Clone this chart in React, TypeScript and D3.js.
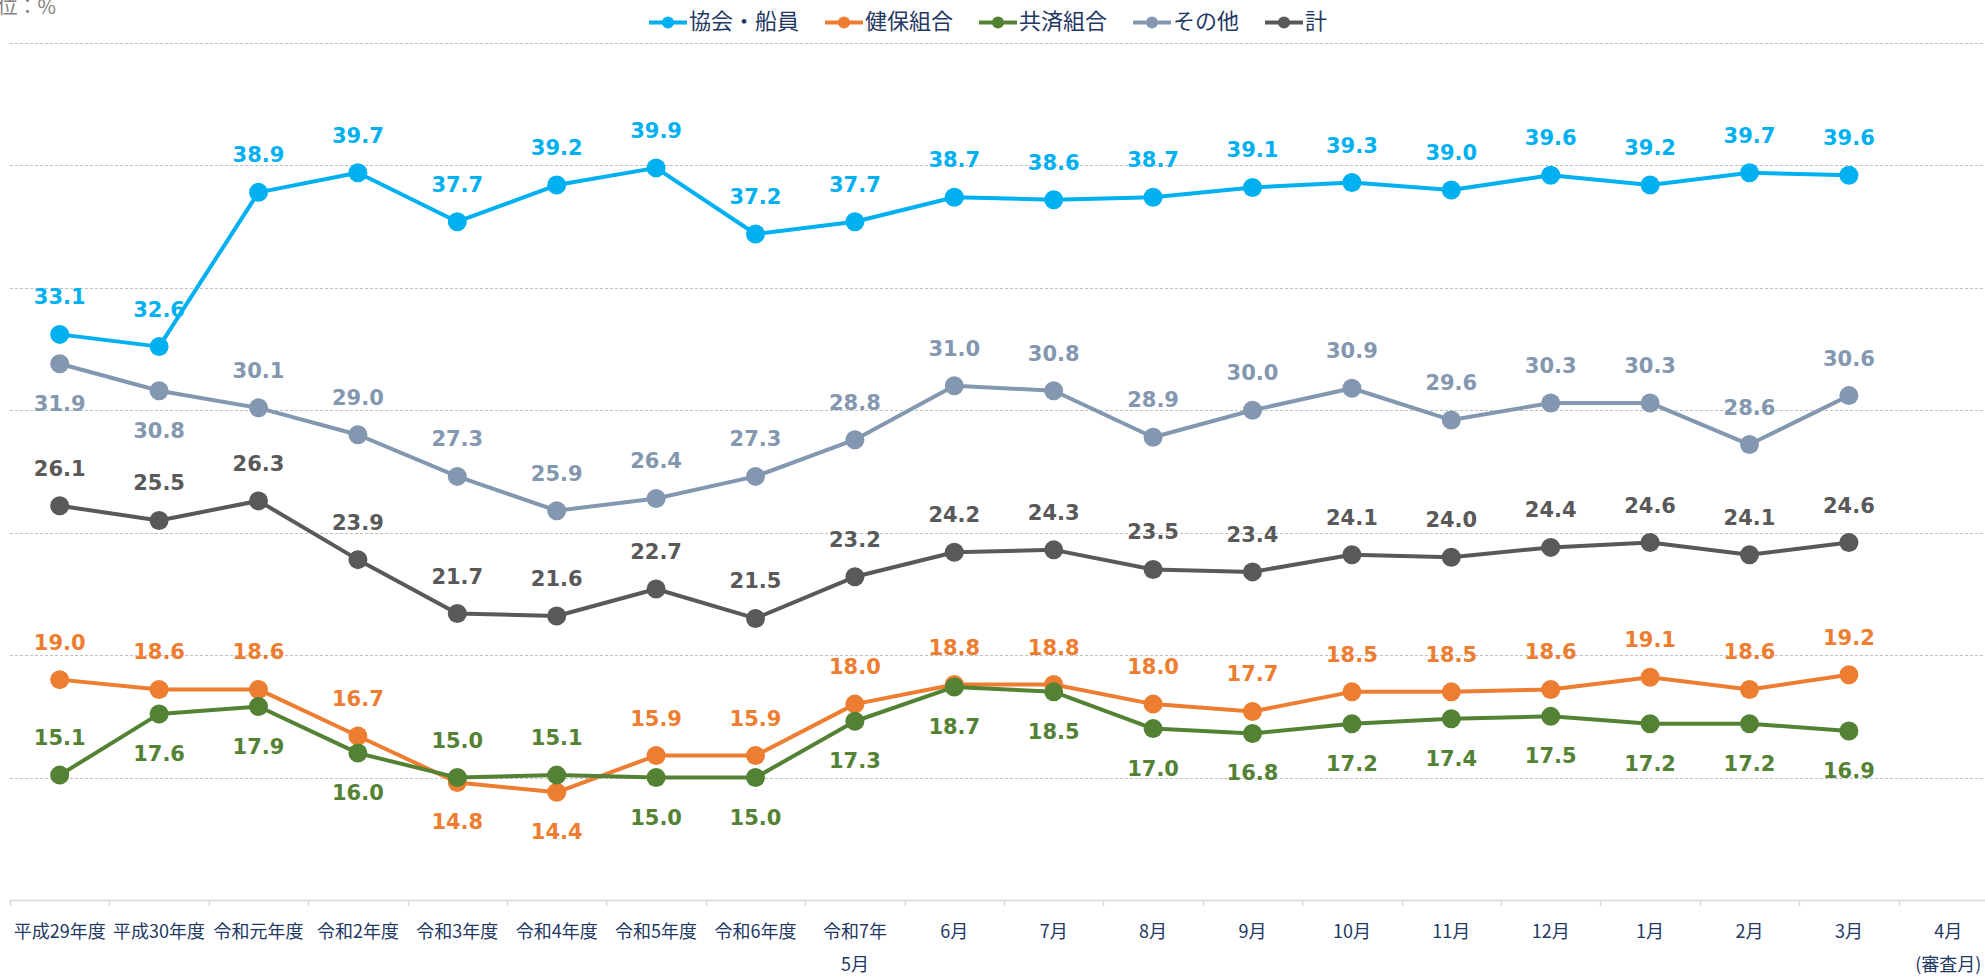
import React from "react";
import * as d3 from "d3";

const categories: string[][] = [
  ["平成29年度"], ["平成30年度"], ["令和元年度"], ["令和2年度"], ["令和3年度"],
  ["令和4年度"], ["令和5年度"], ["令和6年度"], ["令和7年", "5月"], ["6月"],
  ["7月"], ["8月"], ["9月"], ["10月"], ["11月"], ["12月"], ["1月"], ["2月"],
  ["3月"], ["4月", "(審査月)"],
];

const kyokai = [33.1, 32.6, 38.9, 39.7, 37.7, 39.2, 39.9, 37.2, 37.7, 38.7, 38.6, 38.7, 39.1, 39.3, 39.0, 39.6, 39.2, 39.7, 39.6];
const kenpo = [19.0, 18.6, 18.6, 16.7, 14.8, 14.4, 15.9, 15.9, 18.0, 18.8, 18.8, 18.0, 17.7, 18.5, 18.5, 18.6, 19.1, 18.6, 19.2];
const kyosai = [15.1, 17.6, 17.9, 16.0, 15.0, 15.1, 15.0, 15.0, 17.3, 18.7, 18.5, 17.0, 16.8, 17.2, 17.4, 17.5, 17.2, 17.2, 16.9];
const sonota = [31.9, 30.8, 30.1, 29.0, 27.3, 25.9, 26.4, 27.3, 28.8, 31.0, 30.8, 28.9, 30.0, 30.9, 29.6, 30.3, 30.3, 28.6, 30.6];
const total = [26.1, 25.5, 26.3, 23.9, 21.7, 21.6, 22.7, 21.5, 23.2, 24.2, 24.3, 23.5, 23.4, 24.1, 24.0, 24.4, 24.6, 24.1, 24.6];

// label placement: a = above, b = below
const kyokaiLabel = "aaaaaaaaaaaaaaaaaaa";
const kenpoLabel = "aaaabbaaaaaaaaaaaaa";
const kyosaiLabel = "abbbaabbbbbbbbbbbbb";
const sonotaLabel = "bbaaaaaaaaaaaaaaaaa";
const totalLabel = "aaaaaaaaaaaaaaaaaaa";

const yTicks = [10, 15, 20, 25, 30, 35, 40, 45];

const series = [
  { name: "協会・船員", values: kyokai, color: "#00B0F0", labels: kyokaiLabel },
  { name: "健保組合", values: kenpo, color: "#ED7D31", labels: kenpoLabel },
  { name: "共済組合", values: kyosai, color: "#548235", labels: kyosaiLabel },
  { name: "その他", values: sonota, color: "#8497B0", labels: sonotaLabel },
  { name: "計", values: total, color: "#595959", labels: totalLabel },
];

const W = 1985;
const H = 977;
const NAVY = "#1F3864";
const CJK = "'Noto Sans CJK JP', 'Noto Sans', sans-serif";

export default function App() {
  const keys = categories.map((c) => c.join(""));
  const x = d3.scaleBand<string>().domain(keys).range([10, 1998]).padding(0);
  const y = d3.scaleLinear().domain([10, 45]).range([900, 43]);
  const cx = (i: number) => (x(keys[i]) as number) + x.bandwidth() / 2;

  const line = d3
    .line<number>()
    .x((_, i) => cx(i))
    .y((d) => y(d));

  // legend layout
  const legFont = 22;
  const symW = 38;
  const gap = 26;
  const widths = series.map((s) => symW + 2 + s.name.length * legFont);
  const totalW = d3.sum(widths) + gap * (series.length - 1);
  let lx = 988 - totalW / 2;
  const legendItems = series.map((s, i) => {
    const item = { s, x: lx };
    lx += widths[i] + gap;
    return item;
  });

  return (
    <svg
      width={W}
      height={H}
      style={{ position: "absolute", left: 0, top: 0, background: "#fff" }}
    >
      <rect x={0} y={0} width={W} height={H} fill="#fff" />
      {/* unit */}
      <text x={56} y={14} textAnchor="end" fontSize={20} fill="#808080" fontFamily={CJK}>
        単位：%
      </text>

      {/* gridlines */}
      {yTicks
        .filter((t) => t > 10)
        .map((t) => (
          <line
            key={t}
            x1={10}
            x2={W}
            y1={Math.round(y(t)) + 0.5}
            y2={Math.round(y(t)) + 0.5}
            stroke="#BFBFBF"
            strokeWidth={1}
            strokeDasharray="3,2"
          />
        ))}

      {/* x axis */}
      <line x1={10} x2={W} y1={900.5} y2={900.5} stroke="#D9D9D9" strokeWidth={1.5} />
      {keys.map((k) => (
        <line
          key={"t" + k}
          x1={Math.round(x(k) as number) + 0.5}
          x2={Math.round(x(k) as number) + 0.5}
          y1={900}
          y2={906}
          stroke="#D9D9D9"
          strokeWidth={1.5}
        />
      ))}
      {categories.map((c, i) => (
        <g key={"l" + i}>
          {c.map((ln, j) => (
            <text
              key={j}
              x={cx(i)}
              y={938 + j * 33}
              textAnchor="middle"
              fontSize={18}
              fill={NAVY}
              fontFamily={CJK}
            >
              {ln}
            </text>
          ))}
        </g>
      ))}

      {/* lines */}
      {series.map((s) => (
        <g key={s.name}>
          <path d={line(s.values) || ""} fill="none" stroke={s.color} strokeWidth={4} strokeLinejoin="round" />
          {s.values.map((v, i) => (
            <circle key={i} cx={cx(i)} cy={y(v)} r={9.5} fill={s.color} />
          ))}
        </g>
      ))}

      {/* data labels */}
      {series.map((s) => (
        <g key={"dl" + s.name}>
          {s.values.map((v, i) => (
            <text
              key={i}
              x={cx(i)}
              y={s.labels[i] === "a" ? y(v) - 30 : y(v) + 47}
              textAnchor="middle"
              fontSize={21}
              fontWeight="bold"
              fill={s.color}
              fontFamily="'DejaVu Sans', Verdana, sans-serif"
            >
              {v.toFixed(1)}
            </text>
          ))}
        </g>
      ))}

      {/* legend */}
      {legendItems.map(({ s, x: ix }) => (
        <g key={"lg" + s.name}>
          <line x1={ix} x2={ix + symW} y1={22.5} y2={22.5} stroke={s.color} strokeWidth={4} />
          <circle cx={ix + symW / 2} cy={22.5} r={6} fill={s.color} />
          <text x={ix + symW + 2} y={29} fontSize={legFont} fill={NAVY} fontFamily={CJK}>
            {s.name}
          </text>
        </g>
      ))}
    </svg>
  );
}
